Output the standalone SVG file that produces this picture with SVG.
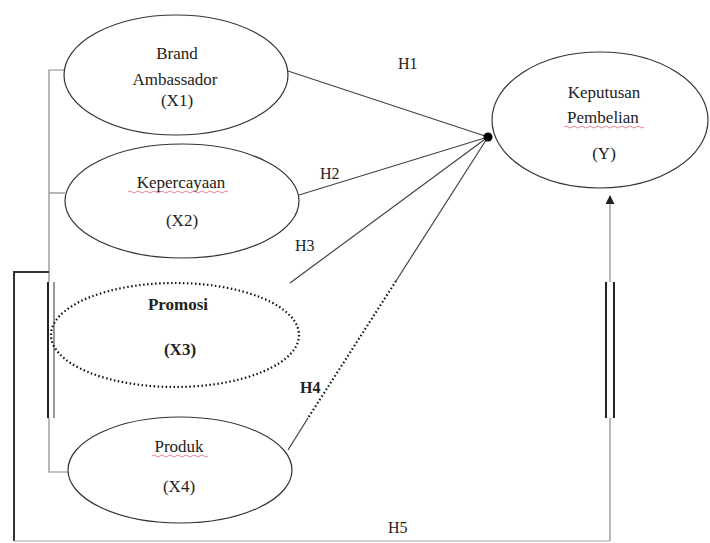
<svg xmlns="http://www.w3.org/2000/svg" width="710" height="543" viewBox="0 0 710 543">
<defs>
<style>
.node{fill:none;stroke:#333;stroke-width:1.2}
.noisy{fill:none;stroke:#111;stroke-width:2.2;stroke-dasharray:1.5 2.5}
.t{font-family:"Liberation Serif","Times New Roman",serif;font-size:17px;fill:#222;text-anchor:middle}
.h{font-family:"Liberation Serif","Times New Roman",serif;font-size:16px;fill:#222}
.ln{fill:none;stroke:#444;stroke-width:1.2}
.br{fill:none;stroke:#888;stroke-width:1.2}
.sq{fill:none;stroke:#e05a6a;stroke-width:1;opacity:0.75}
</style>
<marker id="ah" viewBox="0 0 10 10" refX="9" refY="5" markerWidth="9" markerHeight="9" orient="auto" markerUnits="userSpaceOnUse">
<path d="M0,0 L10,5 L0,10 z" fill="#222"/>
</marker>
</defs>
<rect width="710" height="543" fill="#fff"/>

<g id="connectors">
<!-- bracket on left -->
<path class="br" d="M65,70 H49 V472 H68"/>
<path class="br" d="M49,193 H65"/>
<!-- H5 path -->
<path d="M49,272 H14 V541" fill="none" stroke="#333" stroke-width="2"/>
<path d="M14,541 H610" fill="none" stroke="#aaa" stroke-width="1.2"/>
<path d="M610,541 V196" fill="none" stroke="#999" stroke-width="1.4" marker-end="url(#ah)"/>
<!-- doubled segments in band -->
<rect x="46" y="282" width="10" height="136" fill="#fff"/>
<rect x="604" y="282" width="12" height="136" fill="#fff"/>
<line x1="48" y1="282" x2="48" y2="418" stroke="#222" stroke-width="2"/>
<line x1="54" y1="282" x2="54" y2="418" stroke="#777" stroke-width="1.5"/>
<line x1="606" y1="282" x2="606" y2="418" stroke="#222" stroke-width="2"/>
<line x1="614" y1="282" x2="614" y2="418" stroke="#222" stroke-width="2"/>
<!-- paths to Y -->
<line class="ln" x1="288" y1="71" x2="488" y2="137"/>
<line class="ln" x1="299" y1="195" x2="488" y2="137"/>
<line class="ln" x1="290" y1="283" x2="488" y2="137"/>
<line class="ln" x1="396" y1="281" x2="488" y2="137"/>
<line class="noisy" x1="396" y1="281" x2="308" y2="418"/>
<line class="ln" x1="308" y1="418" x2="288" y2="450"/>
<circle cx="488" cy="137" r="4.5" fill="#000"/>
<!-- labels -->
<text class="h" x="398" y="69">H1</text>
<text class="h" x="320" y="179">H2</text>
<text class="h" x="295" y="251">H3</text>
<text class="h" x="300" y="393" font-weight="bold">H4</text>
<text class="h" x="388" y="533">H5</text>
</g>

<g id="x1">
<ellipse class="node" cx="176" cy="75" rx="112" ry="60"/>
<text class="t" x="177" y="59">Brand</text>
<text class="t" x="175" y="85">Ambassador</text>
<text class="t" x="177" y="106">(X1)</text>
</g>

<g id="x2">
<ellipse class="node" cx="182" cy="201" rx="117" ry="57"/>
<text class="t" x="181" y="188">Kepercayaan</text>
<path class="sq" d="M128,192 q2,-2 4,0 t4,0 t4,0 t4,0 t4,0 t4,0 t4,0 t4,0 t4,0 t4,0 t4,0 t4,0 t4,0 t4,0 t4,0 t4,0 t4,0 t4,0 t4,0 t4,0 t4,0 t4,0 t4,0 t4,0 t4,0"/>
<text class="t" x="182" y="226">(X2)</text>
</g>

<g id="x3">
<ellipse class="noisy" cx="175" cy="335" rx="124" ry="52"/>
<text class="t" x="178" y="310" font-weight="bold">Promosi</text>
<text class="t" x="180" y="355" font-weight="bold">(X3)</text>
</g>

<g id="x4">
<ellipse class="node" cx="180" cy="470" rx="112" ry="53"/>
<text class="t" x="179" y="452">Produk</text>
<path class="sq" d="M152,456 q2,-2 4,0 t4,0 t4,0 t4,0 t4,0 t4,0 t4,0 t4,0 t4,0 t4,0 t4,0 t4,0 t4,0 t4,0"/>
<text class="t" x="179" y="492">(X4)</text>
</g>

<g id="y">
<ellipse class="node" cx="600" cy="120" rx="108" ry="68"/>
<text class="t" x="604" y="98">Keputusan</text>
<text class="t" x="603" y="123">Pembelian</text>
<path class="sq" d="M564,127 q2,-2 4,0 t4,0 t4,0 t4,0 t4,0 t4,0 t4,0 t4,0 t4,0 t4,0 t4,0 t4,0 t4,0 t4,0 t4,0 t4,0 t4,0 t4,0 t4,0 t4,0"/>
<text class="t" x="604" y="159">(Y)</text>
</g>
</svg>
